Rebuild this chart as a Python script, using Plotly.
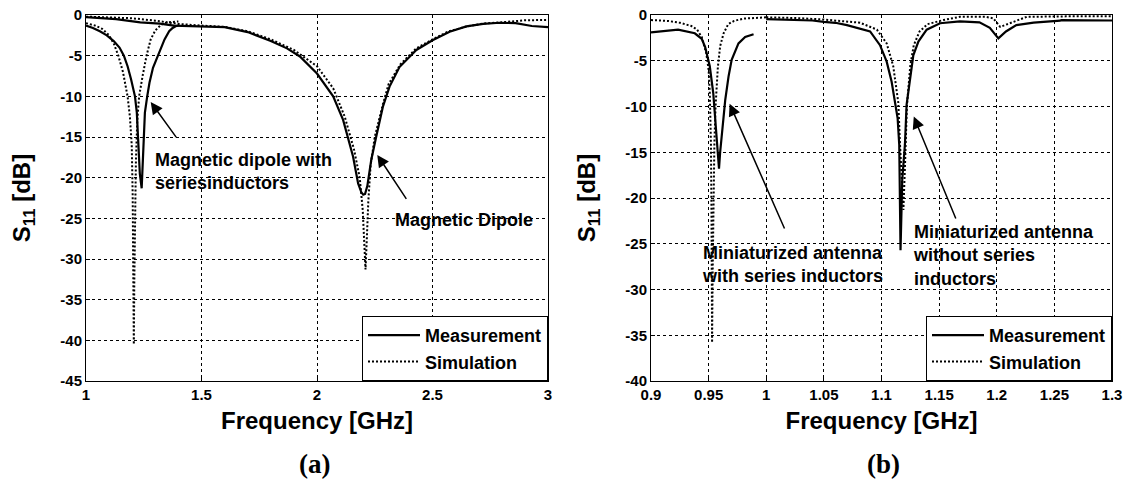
import plotly.graph_objects as go

# ---------------- data: panel (a) ----------------
a_ind_meas_f = [1.00, 1.03, 1.06, 1.09, 1.12, 1.145, 1.164, 1.18, 1.195, 1.212, 1.22, 1.226, 1.233,
                1.241, 1.245, 1.248, 1.255, 1.265, 1.275, 1.29, 1.31, 1.325, 1.34, 1.36, 1.375, 1.39, 1.40]
a_ind_meas_s = [-1.3, -1.6, -2.0, -2.5, -3.2, -4.0, -5.0, -6.3, -7.9, -10.0, -12.0, -16.0, -19.5,
                -21.3, -18.5, -15.0, -12.0, -10.0, -8.3, -6.5, -5.0, -4.0, -3.0, -2.0, -1.6, -1.35, -1.3]

a_ind_sim_f = [1.00, 1.04, 1.07, 1.10, 1.12, 1.14, 1.16, 1.18, 1.19, 1.198, 1.202, 1.205, 1.207,
               1.209, 1.212, 1.216, 1.222, 1.23, 1.245, 1.262, 1.28, 1.30, 1.325, 1.35, 1.40]
a_ind_sim_s = [-1.0, -1.3, -1.7, -2.5, -3.5, -5.0, -7.0, -10.0, -12.5, -16.0, -22.0, -30.0, -40.5,
               -33.0, -25.0, -18.0, -13.0, -10.0, -7.5, -5.0, -3.0, -1.9, -1.2, -0.9, -0.8]

a_dip_meas_f = [1.0, 1.13, 1.235, 1.32, 1.38, 1.5, 1.6, 1.7, 1.8, 1.87, 1.926, 2.0, 2.07, 2.113,
                2.156, 2.178, 2.192, 2.2, 2.208, 2.218, 2.235, 2.256, 2.285, 2.314, 2.357, 2.43,
                2.5, 2.574, 2.647, 2.719, 2.79, 2.86, 2.93, 3.0]
a_dip_meas_s = [-0.25, -0.5, -0.9, -1.05, -1.3, -1.4, -1.5, -2.1, -3.2, -4.1, -5.1, -7.2, -10.0, -12.9,
                -17.4, -20.7, -21.8, -22.1, -22.0, -21.0, -17.8, -15.0, -11.3, -8.8, -6.4, -4.3,
                -3.1, -2.05, -1.4, -1.1, -0.95, -1.0, -1.35, -1.5]

a_dip_sim_f = [1.0, 1.2, 1.3, 1.4, 1.5, 1.6, 1.7, 1.8, 1.9, 2.0, 2.07, 2.12, 2.16, 2.185, 2.198,
               2.205, 2.21, 2.215, 2.222, 2.232, 2.25, 2.285, 2.31, 2.36, 2.43, 2.5, 2.57, 2.65,
               2.72, 2.8, 2.85, 2.9, 3.0]
a_dip_sim_s = [-0.2, -0.4, -0.7, -1.1, -1.3, -1.45, -2.0, -3.0, -4.3, -6.3, -9.0, -12.5, -16.5, -20.0,
               -24.0, -28.5, -31.3, -28.0, -23.0, -18.5, -15.0, -11.0, -8.5, -6.1, -4.1, -3.0, -2.0,
               -1.4, -1.05, -0.9, -0.8, -0.65, -0.6]

# ---------------- data: panel (b) ----------------
b_ind_meas_f = [0.90, 0.9235, 0.938, 0.944, 0.947, 0.951, 0.954, 0.9555, 0.957, 0.959, 0.960,
                0.9615, 0.963, 0.9644, 0.9673, 0.970, 0.9759, 0.9817, 0.989]
b_ind_meas_s = [-1.9, -1.6, -2.0, -2.6, -3.5, -5.6, -8.5, -11.1, -13.3, -16.8, -15.0,
                -13.0, -11.5, -9.3, -6.7, -4.9, -3.1, -2.4, -2.1]

b_ind_sim_f = [0.90, 0.915, 0.925, 0.935, 0.94, 0.944, 0.948, 0.950, 0.951, 0.952, 0.9525, 0.953,
               0.9535, 0.954, 0.955, 0.956, 0.958, 0.960, 0.963, 0.967, 0.972, 0.98, 0.99, 1.0]
b_ind_sim_s = [-0.55, -0.65, -0.85, -1.2, -1.6, -2.4, -4.2, -6.0, -8.5, -14.0, -22.0, -35.8,
               -28.0, -20.0, -14.0, -10.0, -5.7, -3.4, -2.0, -1.0, -0.65, -0.4, -0.3, -0.25]

b_nom_meas_f = [1.0, 1.02, 1.04, 1.05, 1.06, 1.07, 1.0814, 1.0901, 1.0987, 1.1045, 1.1088, 1.1117,
                1.114, 1.1154, 1.116, 1.1165, 1.118, 1.1203, 1.1218, 1.1247, 1.1276, 1.132, 1.1392,
                1.1508, 1.168, 1.185, 1.194, 1.2014, 1.208, 1.217, 1.232, 1.255, 1.256, 1.3]
b_nom_meas_s = [-0.45, -0.5, -0.6, -0.75, -0.85, -1.1, -1.46, -1.8, -3.3, -5.1, -7.3, -9.5,
                -11.3, -14.2, -20.0, -25.7, -18.0, -14.2, -9.8, -6.9, -4.4, -2.9, -1.6,
                -0.9, -0.7, -0.8, -1.4, -2.55, -1.8, -1.1, -0.84, -0.62, -0.55, -0.6]

b_nom_sim_f = [1.0, 1.03, 1.05, 1.07, 1.0814, 1.096, 1.1045, 1.1102, 1.1146, 1.116, 1.1175, 1.119,
               1.1205, 1.122, 1.125, 1.128, 1.133, 1.14, 1.1537, 1.168, 1.19, 1.197, 1.203, 1.2115,
               1.226, 1.26, 1.3]
b_nom_sim_s = [-0.25, -0.35, -0.5, -0.7, -0.84, -1.6, -3.1, -5.6, -9.6, -14.0, -18.0, -21.3,
               -16.0, -10.0, -5.5, -3.3, -1.8, -1.0, -0.55, -0.2, -0.2, -0.36, -1.3, -0.9,
               -0.2, -0.15, -0.15]

# ---------------- tick labels ----------------
a_xticks = [1, 1.5, 2, 2.5, 3]
a_xlabels = ["1", "1.5", "2", "2.5", "3"]
a_yticks = [0, -5, -10, -15, -20, -25, -30, -35, -40, -45]
a_ylabels = ["0", "-5", "-10", "-15", "-20", "-25", "-30", "-35", "-40", "-45"]
b_xticks = [0.9, 0.95, 1.0, 1.05, 1.1, 1.15, 1.2, 1.25, 1.3]
b_xlabels = ["0.9", "0.95", "1", "1.05", "1.1", "1.15", "1.2", "1.25", "1.3"]
b_yticks = [0, -5, -10, -15, -20, -25, -30, -35, -40]
b_ylabels = ["0", "-5", "-10", "-15", "-20", "-25", "-30", "-35", "-40"]

FONT = "Liberation Sans, Arial, Helvetica, sans-serif"
SERIF = "Liberation Serif, Times New Roman, serif"
W, H = 1127, 482


def bold(labels):
    return ["<b>%s</b>" % t for t in labels]


fig = go.Figure()


def add(f, s, xa, ya, name, dash, width, show, legend):
    fig.add_trace(go.Scatter(
        x=f, y=s, xaxis=xa, yaxis=ya, mode="lines", name=name,
        line=dict(color="black", width=width, dash=dash),
        showlegend=show, legend=legend, hoverinfo="x+y"))


MEAS_W, SIM_W, SIM_DASH = 2.2, 2.0, "2px,2px"
# panel (a)
add(a_ind_meas_f, a_ind_meas_s, "x", "y", "Measurement", "solid", MEAS_W, True, "legend")
add(a_ind_sim_f, a_ind_sim_s, "x", "y", "Simulation", SIM_DASH, SIM_W, True, "legend")
add(a_dip_meas_f, a_dip_meas_s, "x", "y", "Measurement", "solid", MEAS_W, False, "legend")
add(a_dip_sim_f, a_dip_sim_s, "x", "y", "Simulation", SIM_DASH, SIM_W, False, "legend")
# panel (b)
add(b_ind_meas_f, b_ind_meas_s, "x2", "y2", "Measurement", "solid", MEAS_W, True, "legend2")
add(b_ind_sim_f, b_ind_sim_s, "x2", "y2", "Simulation", SIM_DASH, SIM_W, True, "legend2")
add(b_nom_meas_f, b_nom_meas_s, "x2", "y2", "Measurement", "solid", MEAS_W, False, "legend2")
add(b_nom_sim_f, b_nom_sim_s, "x2", "y2", "Simulation", SIM_DASH, SIM_W, False, "legend2")

tickfont = dict(family=FONT, size=15, color="black", weight="bold")
titlefont = dict(family=FONT, size=24, color="black", weight="bold")
axis_common = dict(showline=True, linecolor="black", linewidth=1, mirror=True,
                   showgrid=True, gridcolor="black", gridwidth=1, griddash="3px,3px",
                   zeroline=False, ticks="inside", ticklen=4, tickcolor="black",
                   tickfont=tickfont, automargin=False, ticklabeloverflow="allow")

y_dom = [1 - 381 / H, 1 - 15 / H]
a_dom = [86 / W, 548 / W]
b_dom = [651 / W, 1112 / W]

legend_common = dict(xanchor="right", y=1 - 381 / H, yanchor="bottom",
                     bordercolor="black", borderwidth=1, bgcolor="white", tracegroupgap=0,
                     itemwidth=52,
                     font=dict(family=FONT, size=18, color="black", weight="bold"))

fig.update_layout(
    width=W, height=H, margin=dict(l=0, r=0, t=0, b=0),
    paper_bgcolor="white", plot_bgcolor="white",
    xaxis=dict(axis_common, domain=a_dom, range=[1, 3], tickvals=a_xticks, ticktext=bold(a_xlabels),
               anchor="y", title=dict(text="Frequency [GHz]", font=titlefont, standoff=10)),
    yaxis=dict(axis_common, domain=y_dom, range=[-45, 0], tickvals=a_yticks, ticktext=bold(a_ylabels),
               anchor="x", title=dict(text="S<sub>11</sub> [dB]", font=titlefont, standoff=22)),
    xaxis2=dict(axis_common, domain=b_dom, range=[0.9, 1.3], tickvals=b_xticks, ticktext=bold(b_xlabels),
                anchor="y2", title=dict(text="Frequency [GHz]", font=titlefont, standoff=10)),
    yaxis2=dict(axis_common, domain=y_dom, range=[-40, 0], tickvals=b_yticks, ticktext=bold(b_ylabels),
                anchor="x2", title=dict(text="S<sub>11</sub> [dB]", font=titlefont, standoff=22)),
    legend=dict(legend_common, x=548 / W),
    legend2=dict(legend_common, x=1112 / W),
    showlegend=True,
)

annfont = dict(family=FONT, size=18, color="black", weight="bold")


def arrow(xref, yref, x, y, ax, ay):
    fig.add_annotation(x=x, y=y, ax=ax, ay=ay, xref=xref, yref=yref, axref=xref, ayref=yref,
                       text="", showarrow=True, arrowhead=2, arrowsize=1.6, arrowwidth=1.5,
                       arrowcolor="black")


def label(xref, yref, x, y, text):
    fig.add_annotation(x=x, y=y, xref=xref, yref=yref, text=text, showarrow=False,
                       xanchor="left", yanchor="middle", align="left", font=annfont)


arrow("x", "y", 1.28, -10.7, 1.395, -15.2)
label("x", "y", 1.289, -19.3, "Magnetic dipole with<br>seriesinductors")
arrow("x", "y", 2.261, -17.2, 2.391, -22.8)
label("x", "y", 2.33, -25.2, "Magnetic Dipole")

arrow("x2", "y2", 0.9682, -9.7, 1.0164, -23.5)
label("x2", "y2", 0.9423, -27.3, "Miniaturized antenna<br>with series inductors")
arrow("x2", "y2", 1.128, -11.1, 1.165, -22.4)
label("x2", "y2", 1.126, -26.3, "Miniaturized antenna<br>without series<br>inductors")

panelfont = dict(family=SERIF, size=27, color="black", weight="bold")
fig.add_annotation(x=315 / W, y=1 - 464 / H, xref="paper", yref="paper", text="(a)",
                   showarrow=False, xanchor="center", yanchor="middle", font=panelfont)
fig.add_annotation(x=883 / W, y=1 - 464 / H, xref="paper", yref="paper", text="(b)",
                   showarrow=False, xanchor="center", yanchor="middle", font=panelfont)

fig.write_html("out.html", config={"displayModeBar": False},
               post_script="document.body.style.margin='0';")
